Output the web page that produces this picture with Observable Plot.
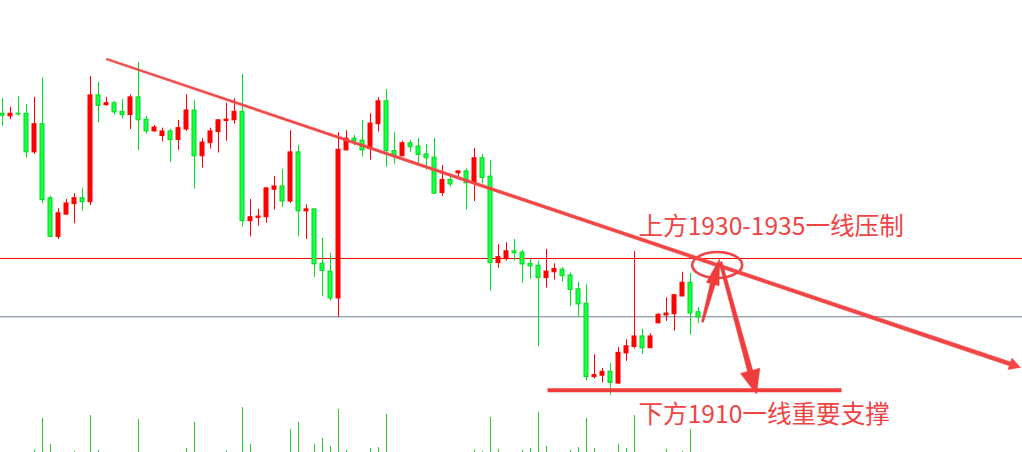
<!DOCTYPE html>
<html><head><meta charset="utf-8">
<script src="https://cdn.jsdelivr.net/npm/d3@7"></script>
<script src="https://cdn.jsdelivr.net/npm/@observablehq/plot@0.6"></script>
<style>
html,body{margin:0;padding:0;background:#fff;}
#wrap{position:relative;width:1022px;height:452px;overflow:hidden;background:#fff;}
#wrap svg{position:absolute;left:0;}
</style></head><body><div id="wrap"></div>
<script>
// ---- candle data (price units) ----
const open = [1952.1,1951.7,1952.1,1952.1,1946.2,1950.5,1939.2,1933.3,1936.7,1938.3,
1939.2,1938.6,1954.9,1953.4,1953.7,1952.4,1951.9,1954.6,1951.2,1949.4,
1948.7,1949.4,1948.1,1949.7,1952.6,1945.6,1947.6,1949.3,1951.0,1951.1,
1952.4,1935.7,1936.2,1936.3,1940.5,1941.0,1938.7,1946.2,1937.2,1937.5,
1929.2,1928.0,1923.9,1946.5,1948.3,1948.0,1946.7,1950.5,1954.0,1946.4,
1945.6,1947.6,1947.1,1945.9,1945.4,1940.0,1942.0,1943.0,1943.3,1941.5,
1945.3,1942.5,1929.3,1929.9,1931.1,1930.9,1929.2,1928.9,1927.0,1927.9,
1928.3,1927.4,1925.3,1923.1,1911.9,1912.1,1912.7,1910.9,1915.5,1916.5,
1918.1,1916.3,1920.1,1921.3,1921.5,1924.2,1926.3,1921.8];
const high = [1954.4,1953.1,1954.7,1953.5,1954.6,1957.6,1939.5,1937.6,1939.0,1939.9,
1940.7,1957.8,1956.9,1954.6,1954.0,1954.3,1955.0,1959.9,1951.7,1950.3,
1949.9,1949.7,1951.1,1955.0,1954.1,1948.3,1949.9,1951.1,1953.7,1954.4,
1958.1,1939.0,1937.5,1940.8,1942.5,1943.6,1949.5,1947.3,1938.2,1937.5,
1933.1,1930.8,1949.2,1949.5,1948.8,1951.1,1952.1,1954.6,1955.8,1949.2,
1947.9,1948.0,1948.3,1947.4,1948.3,1944.2,1942.7,1943.3,1943.7,1946.8,
1945.9,1945.0,1932.1,1932.4,1932.9,1931.2,1929.9,1929.6,1931.4,1929.2,
1928.6,1927.8,1926.4,1926.0,1915.3,1913.2,1914.0,1916.4,1917.6,1931.1,
1919.2,1918.5,1921.6,1924.0,1924.5,1927.9,1927.7,1922.5];
const low = [1950.2,1951.2,1951.7,1945.3,1945.9,1938.4,1933.3,1932.9,1936.6,1935.3,
1937.2,1938.1,1950.7,1953.3,1951.9,1951.3,1949.7,1946.5,1949.0,1949.3,
1947.8,1944.7,1946.5,1949.4,1940.6,1943.8,1946.7,1946.1,1947.9,1950.5,
1934.8,1933.3,1934.9,1935.4,1937.4,1937.8,1938.4,1933.3,1932.9,1927.1,
1924.2,1923.5,1921.0,1946.5,1947.2,1945.5,1945.0,1949.3,1943.9,1944.4,
1945.6,1946.2,1944.4,1943.5,1939.8,1939.5,1940.9,1942.4,1937.4,1938.7,
1941.4,1925.0,1928.5,1929.6,1929.6,1926.2,1926.8,1916.5,1925.5,1926.7,
1926.4,1922.7,1921.0,1911.3,1911.6,1911.0,1909.1,1910.8,1914.3,1916.2,
1915.4,1916.3,1920.1,1920.4,1918.9,1924.2,1918.3,1920.1];
const close = [1951.8,1952.1,1952.0,1946.2,1950.5,1938.9,1933.3,1936.9,1938.4,1939.2,
1938.6,1954.9,1953.3,1953.7,1952.3,1951.9,1954.6,1951.1,1949.4,1950.0,
1949.4,1948.1,1949.9,1952.6,1945.6,1947.7,1949.4,1951.1,1951.2,1952.4,
1935.7,1936.3,1936.4,1940.7,1941.0,1938.7,1946.2,1937.2,1937.5,1929.1,
1928.1,1923.9,1946.6,1948.3,1947.9,1946.5,1950.6,1954.0,1946.4,1945.6,
1947.6,1947.0,1945.8,1945.3,1939.9,1942.0,1941.3,1943.3,1941.5,1945.3,
1942.3,1929.3,1930.2,1931.1,1930.8,1929.1,1928.8,1927.0,1928.0,1928.4,
1927.3,1925.2,1923.0,1911.9,1912.2,1912.7,1911.0,1915.6,1916.6,1918.1,
1916.3,1918.1,1921.4,1921.6,1924.4,1926.3,1921.6,1921.0];

// ---- volume (visible part only) ----
const volIdx = [4,5,6,9,11,12,17,23,24,28,30,31,36,37,39,40,41,42,43,46,47,48,59,60,61,62,65,66,67,68,71,72,73,74,77,78,79,83,85,86];
const volVal = [270,3400,800,100,3700,200,3300,400,3000,170,4500,800,2300,3000,800,1400,600,4300,200,400,500,3800,270,100,3500,300,200,400,4000,600,200,500,3400,400,800,400,3700,300,100,2300];

// ---- reference levels & annotations ----
const resistanceLevel = 1930;
const lastPriceLevel = 1921.1;
const supportLevel = 1909.9;
const supportSpan = [68.19, 104.94];            // candle index range
const trendStart = [13.06, 1960.38];            // [index, price]
const trendEnd = [127.3, 1913.3];
const circleCenter = [89.4, 1928.93];
const upArrow = [[87.56, 1920.23], [89.69, 1929.85]];
const downArrow = [[89.81, 1929.39], [94.31, 1909.24]];
const labelTexts = ["上方1930-1935一线压制", "下方1910一线重要支撑"];
const labelX = [79.5, 79.5];
const labelY = [1934.73, 1906.03];

const X_DOMAIN = [-0.25, 127.5];
const Y_DOMAIN = [1900.38, 1969.39];
const RED = "#ff0000", GREEN_FILL = "#1aff4a", GREEN_LINE = "#00d81e";
const ANNO = "#f04444";
const FONT = "'Noto Sans CJK SC', 'Noto Sans', sans-serif";

const candles = open.map((o, i) => ({i, open: o, high: high[i], low: low[i], close: close[i], up: close[i] >= o}));
const ups = candles.filter(d => d.up), downs = candles.filter(d => !d.up);
const vols = volIdx.map((i, k) => ({i, v: volVal[k]}));
const labels = labelTexts.map((t, k) => ({text: t, x: labelX[k], y: labelY[k]}));

const wrap = document.getElementById("wrap");

const volPlot = Plot.plot({
  width: 1022, height: 52, margin: 0,
  x: {domain: X_DOMAIN, axis: null},
  y: {domain: [0, 5200], axis: null},
  style: {background: "transparent"},
  marks: [Plot.ruleX(vols, {x: "i", y1: 0, y2: "v", stroke: "#2bcb2b", strokeWidth: 1})]
});
volPlot.style.top = "400px";
wrap.appendChild(volPlot);

const main = Plot.plot({
  width: 1022, height: 452, margin: 0,
  x: {domain: X_DOMAIN, axis: null},
  y: {domain: Y_DOMAIN, axis: null},
  style: {background: "transparent", overflow: "visible"},
  marks: [
    Plot.ruleY([resistanceLevel], {stroke: RED, strokeWidth: 1}),
    Plot.ruleY([lastPriceLevel], {stroke: "#6f8090", strokeWidth: 1}),
    Plot.ruleX(downs, {x: "i", y1: "low", y2: "high", stroke: "#00e01e", strokeWidth: 1}),
    Plot.ruleX(ups, {x: "i", y1: "low", y2: "high", stroke: RED, strokeWidth: 1}),
    Plot.rect(downs, {x1: d => d.i - 0.25, x2: d => d.i + 0.25, y1: "open", y2: "close", fill: GREEN_FILL, stroke: GREEN_LINE, strokeWidth: 1}),
    Plot.rect(ups, {x1: d => d.i - 0.25, x2: d => d.i + 0.25, y1: "open", y2: "close", fill: RED, stroke: RED, strokeWidth: 1}),
    Plot.ruleY([{p: supportLevel, a: supportSpan[0], b: supportSpan[1]}], {y: "p", x1: "a", x2: "b", stroke: "#f03c3c", strokeWidth: 4}),
    Plot.text(labels, {x: "x", y: "y", text: "text", textAnchor: "start", lineAnchor: "middle",
      fontSize: 24.6, fontFamily: FONT, fill: ANNO})
  ]
});
main.style.top = "0px";
wrap.appendChild(main);

// extra annotation shapes positioned through the chart's own scales
const xs = main.scale("x"), ys = main.scale("y");
const svg = d3.select(main);
svg.append("ellipse")
  .attr("cx", xs.apply(circleCenter[0])).attr("cy", ys.apply(circleCenter[1]))
  .attr("rx", 25).attr("ry", 13)
  .attr("fill", "none").attr("stroke", ANNO).attr("stroke-width", 2.6);

function thickArrow(a, b, headLen, headHalf, w0, w1, color) {
  const x0 = xs.apply(a[0]), y0 = ys.apply(a[1]);
  const x1 = xs.apply(b[0]), y1 = ys.apply(b[1]);
  const dx = x1 - x0, dy = y1 - y0, len = Math.hypot(dx, dy);
  const ux = dx / len, uy = dy / len, nx = -uy, ny = ux;
  const bx = x1 - ux * headLen, by = y1 - uy * headLen;
  const pts = [
    [x0 + nx * w0, y0 + ny * w0], [bx + nx * w1, by + ny * w1], [bx + nx * headHalf, by + ny * headHalf],
    [x1, y1],
    [bx - nx * headHalf, by - ny * headHalf], [bx - nx * w1, by - ny * w1], [x0 - nx * w0, y0 - ny * w0]
  ];
  svg.append("path").attr("d", "M" + pts.map(p => p.join(",")).join("L") + "Z")
    .attr("fill", color).attr("stroke", color).attr("stroke-width", 0.6).attr("stroke-linejoin", "round");
}
thickArrow(trendStart, trendEnd, 11, 6, 0.9, 2.0, "#f24646");
thickArrow(upArrow[0], upArrow[1], 26, 6.5, 1, 2.5, "#f03c3c");
thickArrow(downArrow[0], downArrow[1], 24, 10, 1.5, 2.6, "#f03c3c");
</script></body></html>
